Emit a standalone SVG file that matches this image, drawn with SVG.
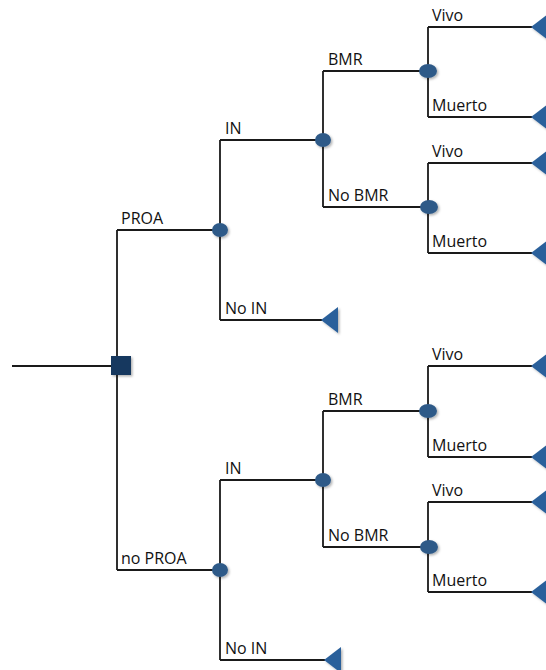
<svg xmlns="http://www.w3.org/2000/svg" xmlns:xlink="http://www.w3.org/1999/xlink" width="546" height="670" viewBox="0 0 546 670">
<style>
  .ln{fill:none;stroke:#1a1a1a;stroke-width:1.8}
  .lbl{font-family:"Open Sans","Liberation Sans",sans-serif;font-size:16px;fill:#111}
  .chance{fill:#2F5A88;filter:url(#sh)}
  .term{fill:#2A609B;filter:url(#sh)}
  .dec{fill:#17375E;filter:url(#sh)}
</style>
<defs>
  <filter id="sh" x="-50%" y="-50%" width="200%" height="200%">
    <feDropShadow dx="1.5" dy="1.5" stdDeviation="1" flood-color="#000" flood-opacity="0.3"/>
  </filter>
  <path id="tri" d="M0,0 L17,-13 L17,13 Z"/>
</defs>
<rect width="546" height="670" fill="#fff"/>
<g id="connectors">
  <path class="ln" d="M12,366 H117"/>
  <path class="ln" d="M117,230 V570 M117,230 H220 M117,570 H220"/>
  <path class="ln" d="M220,140 V320 M220,140 H323 M220,320 H322"/>
  <path class="ln" d="M323,71 V207 M323,71 H428 M323,207 H429"/>
  <path class="ln" d="M428,27 V117 M428,27 H532 M428,117 H532"/>
  <path class="ln" d="M428,163 V253 M428,163 H532 M428,253 H532"/>
  <path class="ln" d="M220,480 V660 M220,480 H323 M220,660 H325"/>
  <path class="ln" d="M323,411 V547 M323,411 H428 M323,547 H429"/>
  <path class="ln" d="M428,366 V457 M428,366 H532 M428,457 H532"/>
  <path class="ln" d="M428,502 V592 M428,502 H532 M428,592 H532"/>
</g>
<g id="labels">
  <text class="lbl" x="121" y="224">PROA</text>
  <text class="lbl" x="121" y="564">no PROA</text>
  <text class="lbl" x="225" y="134">IN</text>
  <text class="lbl" x="225" y="314">No IN</text>
  <text class="lbl" x="225" y="474">IN</text>
  <text class="lbl" x="225" y="654">No IN</text>
  <text class="lbl" x="328" y="65">BMR</text>
  <text class="lbl" x="328" y="201">No BMR</text>
  <text class="lbl" x="328" y="405">BMR</text>
  <text class="lbl" x="328" y="541">No BMR</text>
  <text class="lbl" x="432" y="21">Vivo</text>
  <text class="lbl" x="432" y="111">Muerto</text>
  <text class="lbl" x="432" y="157">Vivo</text>
  <text class="lbl" x="432" y="247">Muerto</text>
  <text class="lbl" x="432" y="360">Vivo</text>
  <text class="lbl" x="432" y="451">Muerto</text>
  <text class="lbl" x="432" y="496">Vivo</text>
  <text class="lbl" x="432" y="586">Muerto</text>
</g>
<g id="decision"><rect class="dec" x="111" y="356" width="20" height="19"/></g>
<g id="c-proa"><ellipse class="chance" cx="220" cy="230" rx="8" ry="7"/></g>
<g id="c-noproa"><ellipse class="chance" cx="220" cy="570" rx="8" ry="7"/></g>
<g id="c-in1"><ellipse class="chance" cx="323" cy="140" rx="8" ry="7"/></g>
<g id="c-in2"><ellipse class="chance" cx="323" cy="480" rx="8" ry="7"/></g>
<g id="c-bmr1"><ellipse class="chance" cx="428" cy="71" rx="9" ry="7"/></g>
<g id="c-nobmr1"><ellipse class="chance" cx="429" cy="207" rx="9" ry="7"/></g>
<g id="c-bmr2"><ellipse class="chance" cx="428" cy="411" rx="9" ry="7"/></g>
<g id="c-nobmr2"><ellipse class="chance" cx="429" cy="547" rx="9" ry="7"/></g>
<g id="t-noin1"><use class="term" href="#tri" x="321" y="320"/></g>
<g id="t-noin2"><use class="term" href="#tri" x="324" y="660"/></g>
<g id="t1"><use class="term" href="#tri" x="531" y="27"/></g>
<g id="t2"><use class="term" href="#tri" x="531" y="117"/></g>
<g id="t3"><use class="term" href="#tri" x="531" y="163"/></g>
<g id="t4"><use class="term" href="#tri" x="531" y="253"/></g>
<g id="t5"><use class="term" href="#tri" x="531" y="366"/></g>
<g id="t6"><use class="term" href="#tri" x="531" y="457"/></g>
<g id="t7"><use class="term" href="#tri" x="531" y="502"/></g>
<g id="t8"><use class="term" href="#tri" x="531" y="592"/></g>
</svg>
